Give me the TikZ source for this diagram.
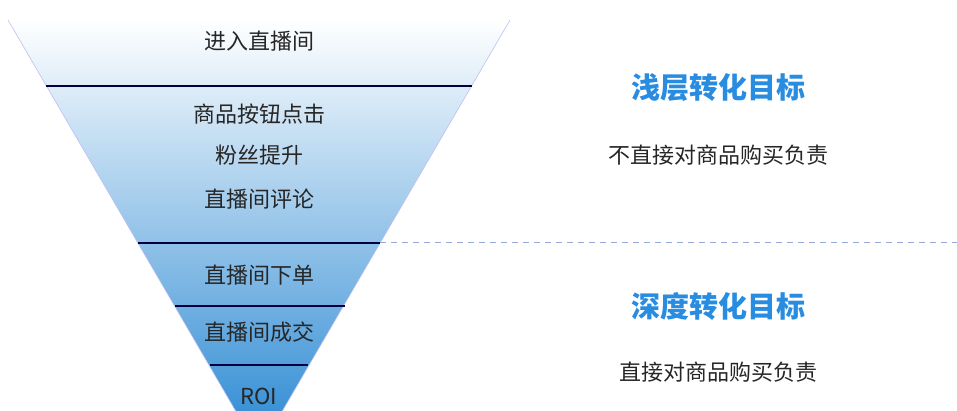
\documentclass[tikz,border=0pt]{standalone}
\usepackage{fontspec}
\newfontfamily\cjk{Noto Sans CJK SC}
\begin{document}
\begin{tikzpicture}[x=1pt,y=-1pt,
  band/.style={font=\cjk\fontsize{22}{22}\selectfont, text=black!85},
  head/.style={font=\cjk\bfseries\fontsize{29}{29}\selectfont, text={rgb,255:red,40;green,140;blue,225}},
  sub/.style={font=\cjk\fontsize{22}{22}\selectfont, text=black!85},
  sep/.style={draw=black!75!blue, line width=1.2pt}]
\useasboundingbox (0,0) rectangle (957,411);
\begin{scope}
\clip (0,0) rectangle (957,411);
\shade[top color=white, middle color={rgb,255:red,130;green,198;blue,240}, bottom color={rgb,255:red,40;green,135;blue,210}, shading angle=0]
  (8,20) -- (510,20) -- (259,451) -- cycle;
\draw[black!20!blue!25, line width=0.6pt] (8,20) -- (259,451) -- (510,20);
\end{scope}
\coordinate (l1) at (46,86); \coordinate (r1) at (472,86);
\coordinate (l2) at (138,243); \coordinate (r2) at (380,243);
\coordinate (l3) at (175,306); \coordinate (r3) at (345,306);
\coordinate (l4) at (210,365); \coordinate (r4) at (308,365);
\coordinate (dend) at (957,243);
\draw[sep] (l1) -- (r1);
\draw[sep] (l2) -- (r2);
\draw[sep] (l3) -- (r3);
\draw[sep] (l4) -- (r4);
\draw[dashed, dash pattern=on 6pt off 5pt, draw={rgb,255:red,150;green,170;blue,215}, line width=1pt] (r2) -- (dend);
\node[band] (t1) at (259,41) {进入直播间};
\node[band] (t2) at (259,114) {商品按钮点击};
\node[band] (t3) at (259,155) {粉丝提升};
\node[band] (t4) at (259,199) {直播间评论};
\node[band] (t5) at (259,275) {直播间下单};
\node[band] (t6) at (259,332) {直播间成交};
\node[band] (t7) at (259,396) {ROI};
\node[head] (h1) at (718,88) {浅层转化目标};
\node[sub] (s1) at (718,155) {不直接对商品购买负责};
\node[head] (h2) at (718,306) {深度转化目标};
\node[sub] (s2) at (718,372) {直接对商品购买负责};
\end{tikzpicture}
\end{document}
